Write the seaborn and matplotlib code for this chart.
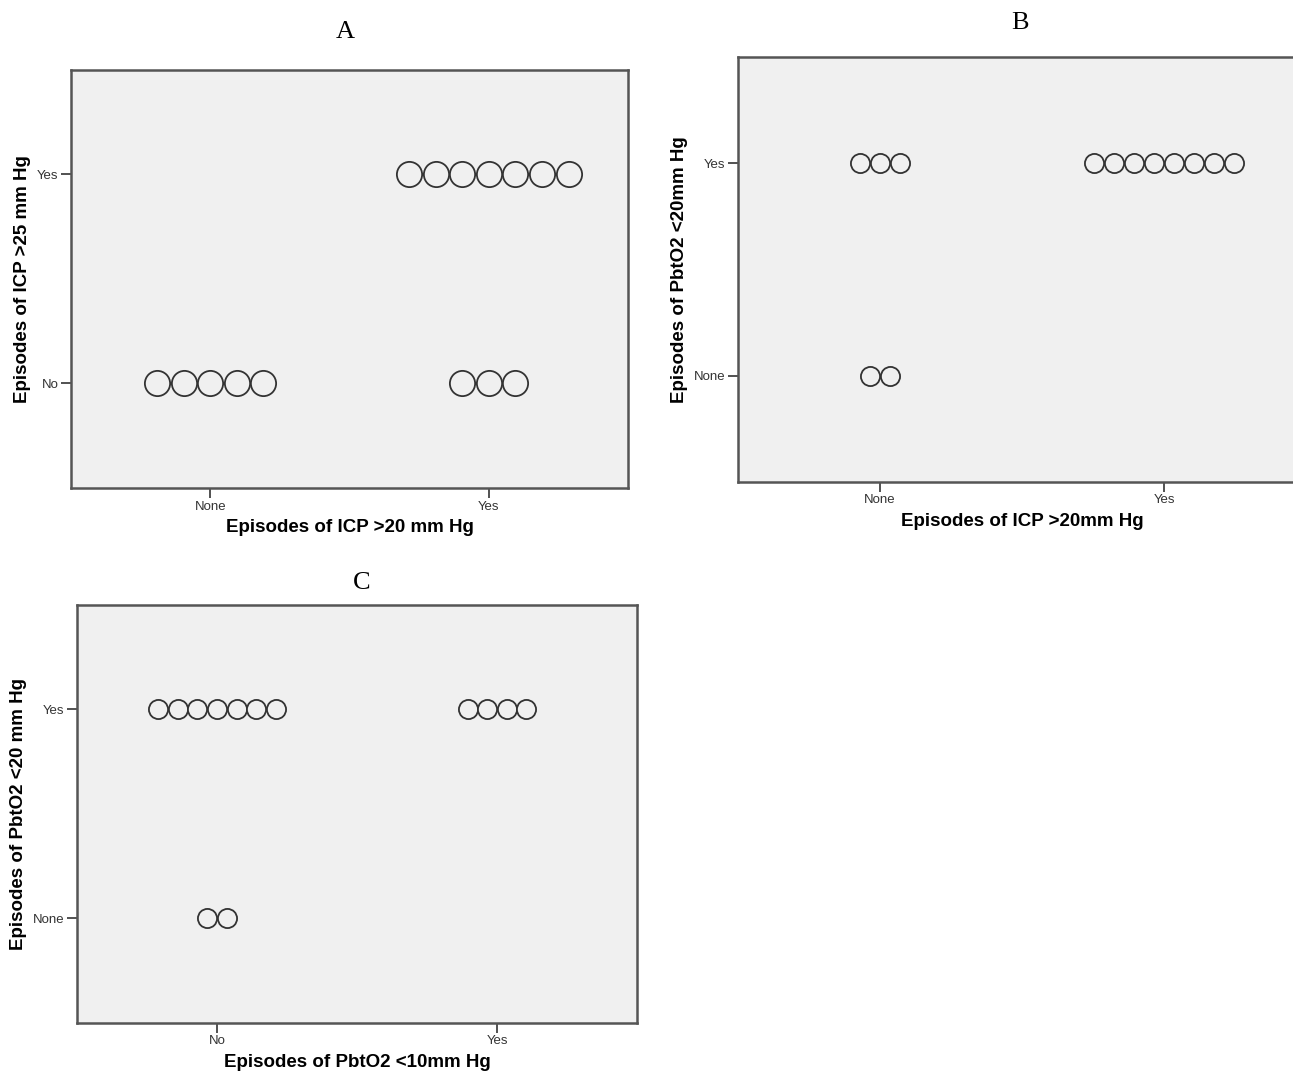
import numpy as np
import pandas as pd
import matplotlib
matplotlib.use('Agg')
import matplotlib.pyplot as plt
import seaborn as sns

# panel A: ICP >20 vs ICP >25
a_x_labels = ['None', 'Yes']
a_y_labels = ['No', 'Yes']
a_x = ['None', 'Yes', 'Yes']
a_y = ['No', 'Yes', 'No']
a_n = [5, 7, 3]

# panel B: ICP >20 vs PbtO2 <20
b_x_labels = ['None', 'Yes']
b_y_labels = ['None', 'Yes']
b_x = ['None', 'None', 'Yes']
b_y = ['Yes', 'None', 'Yes']
b_n = [3, 2, 8]

# panel C: PbtO2 <10 vs PbtO2 <20
c_x_labels = ['No', 'Yes']
c_y_labels = ['None', 'Yes']
c_x = ['No', 'No', 'Yes']
c_y = ['Yes', 'None', 'Yes']
c_n = [7, 2, 4]


def dot_rows(xs, ys, ns, x_labels, y_labels, step):
    # one row per case, stacked side by side around the category
    rows = []
    for xc, yc, n in zip(xs, ys, ns):
        for k in range(n):
            rows.append({'x': x_labels.index(xc) + (k - (n - 1) / 2) * step,
                         'y': y_labels.index(yc)})
    return pd.DataFrame(rows)


def dot_panel(ax, xs, ys, ns, x_labels, y_labels, step, size, xlabel, ylabel):
    df = dot_rows(xs, ys, ns, x_labels, y_labels, step)
    ax.set_facecolor('#f0f0f0')
    sns.scatterplot(data=df, x='x', y='y', ax=ax, s=size, color='#f0f0f0',
                    edgecolor='#333333', linewidth=1.3, legend=False, zorder=3)
    ax.set_xlim(-0.5, 1.5)
    ax.set_ylim(-0.5, 1.5)
    ax.set_xticks([0, 1])
    ax.set_xticklabels(x_labels)
    ax.set_yticks([0, 1])
    ax.set_yticklabels(y_labels)
    ax.tick_params(bottom=True, left=True, length=7, width=1.2,
                   color='#333333', labelsize=9.5, labelcolor='#333333', pad=2)
    for sp in ax.spines.values():
        sp.set_color('#555555')
        sp.set_linewidth(1.8)
    ax.set_xlabel(xlabel, fontsize=13.5, fontweight='bold', labelpad=5,
                  color='black')
    ax.set_ylabel(ylabel, fontsize=13.5, fontweight='bold', labelpad=4,
                  color='black')


sns.set_style('white')
plt.rcParams['font.family'] = ['Liberation Sans', 'DejaVu Sans']

fig = plt.figure(figsize=(12.93, 10.73), dpi=100)
ax_a = fig.add_axes([0.0549, 0.5452, 0.4308, 0.3896])
ax_b = fig.add_axes([0.5708, 0.5508, 0.4393, 0.3961])
ax_c = fig.add_axes([0.0596, 0.0466, 0.4331, 0.3896])

dot_panel(ax_a, a_x, a_y, a_n, a_x_labels, a_y_labels, 0.0955, 330,
          'Episodes of ICP >20 mm Hg', 'Episodes of ICP >25 mm Hg')
dot_panel(ax_b, b_x, b_y, b_n, b_x_labels, b_y_labels, 0.070, 190,
          'Episodes of ICP >20mm Hg', 'Episodes of PbtO2 <20mm Hg')
dot_panel(ax_c, c_x, c_y, c_n, c_x_labels, c_y_labels, 0.070, 190,
          'Episodes of PbtO2 <10mm Hg', 'Episodes of PbtO2 <20 mm Hg')

for lab, x, y in [('A', 345, 32), ('B', 1020, 23), ('C', 362, 583)]:
    fig.text(x / 1293, 1 - y / 1073, lab, ha='center', va='center',
             fontsize=19, family='Liberation Serif', color='black')

plt.savefig('out.png', dpi=100)
plt.close()
